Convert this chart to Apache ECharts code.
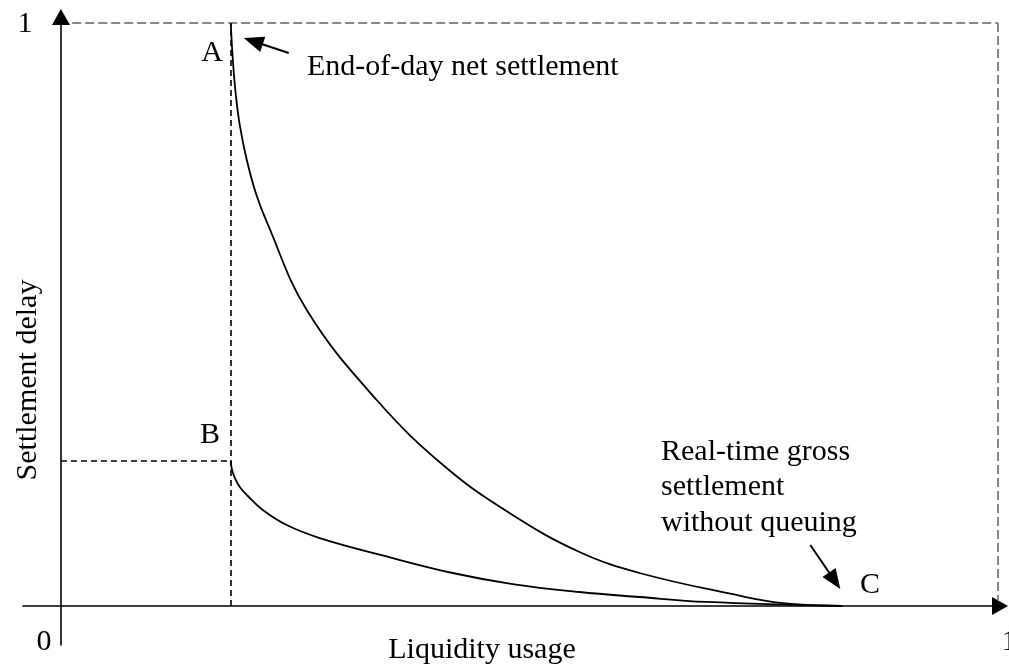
<!DOCTYPE html>
<html>
<head>
<meta charset="utf-8">
<script src="https://cdn.jsdelivr.net/npm/echarts@6/dist/echarts.min.js"></script>
<style>
html, body { margin: 0; padding: 0; background: #fff; }
#chart { width: 1009px; height: 669px; }
</style>
</head>
<body>
<div id="chart"></div>
<script>
// upper curve: from A (end-of-day net settlement) down to C
var upperX = [0.1812, 0.1834, 0.1866, 0.1908, 0.1983, 0.2079, 0.2196, 0.2623, 0.3369, 0.4115, 0.4819, 0.5533, 0.6173, 0.7207, 0.7697, 0.8337];
var upperY = [1.0, 0.9365, 0.8765, 0.8250, 0.7650, 0.7084, 0.6587, 0.5077, 0.3533, 0.2367, 0.1561, 0.0926, 0.0566, 0.0189, 0.0051, 0];
// lower curve: from B down to C
var lowerX = [0.1812, 0.1823, 0.1855, 0.1908, 0.1983, 0.2154, 0.2409, 0.2761, 0.3454, 0.4179, 0.4819, 0.5533, 0.6173, 0.6887, 0.8337];
var lowerY = [0.2487, 0.2350, 0.2196, 0.2041, 0.1904, 0.1647, 0.1389, 0.1166, 0.0858, 0.0566, 0.0377, 0.0240, 0.0154, 0.0069, 0];

var pointA = [0.1812, 1];
var pointB = [0.1812, 0.2487];

var xTickValues = [0, 1];
var xTickLabels = ['0', '1'];
var yTickValues = [1];
var yTickLabels = ['1'];

// arrows: [tail, head]
var arrowEod = [[0.2431, 0.9485], [0.2052, 0.9688]];
var arrowRtgs = [[0.7996, 0.1046], [0.8256, 0.0434]];

var FONT = '"Liberation Serif", "Times New Roman", serif';

function pairs(xs, ys) {
    var out = [];
    for (var i = 0; i < xs.length; i++) {
        out.push([xs[i], ys[i]]);
    }
    return out;
}

function txt(x, y, s, align, extra) {
    var el = { type: 'text', x: x, y: y, style: { text: s, font: '30px ' + FONT, fill: '#000', align: align || 'center', verticalAlign: 'middle' } };
    if (extra) {
        for (var k in extra) { el[k] = extra[k]; }
    }
    return el;
}

var chart = echarts.init(document.getElementById('chart'));

var option = {
    animation: false,
    grid: { left: 23, right: 9, top: 17, bottom: 24, containLabel: false, outerBoundsMode: 'none' },
    xAxis: {
        type: 'value',
        min: -0.0405,
        max: 1.002,
        splitLine: { show: false },
        axisTick: { show: false },
        axisLabel: { show: false },
        axisLine: {
            onZero: true,
            symbol: ['none', 'triangle'],
            symbolSize: [18, 16],
            lineStyle: { color: '#000', width: 1.6 }
        }
    },
    yAxis: {
        type: 'value',
        min: -0.0669,
        max: 1.0103,
        splitLine: { show: false },
        axisTick: { show: false },
        axisLabel: { show: false },
        axisLine: {
            onZero: true,
            symbol: ['none', 'triangle'],
            symbolSize: [18, 16],
            lineStyle: { color: '#000', width: 1.6 }
        }
    },
    series: [
        {
            name: 'End-of-day net settlement',
            type: 'line',
            data: pairs(upperX, upperY),
            showSymbol: false,
            smooth: 0.4,
            lineStyle: { color: '#000', width: 1.8 },
            silent: true
        },
        {
            name: 'Real-time gross settlement',
            type: 'line',
            data: pairs(lowerX, lowerY),
            showSymbol: false,
            smooth: 0.4,
            lineStyle: { color: '#000', width: 1.8 },
            silent: true,
            markLine: {
                silent: true,
                symbol: 'none',
                label: { show: false },
                data: [
                    // grey dashed frame at 1/1
                    [{ coord: [0.012, 1], lineStyle: { color: '#888', width: 2, type: [9, 4] } }, { coord: [1, 1] }],
                    [{ coord: [1, 1], lineStyle: { color: '#888', width: 2, type: [9, 4] } }, { coord: [1, 0.01] }],
                    // black dashed guides through A and B
                    [{ coord: [pointA[0], 0], lineStyle: { color: '#000', width: 1.6, type: [6, 4] } }, { coord: pointA }],
                    [{ coord: [0, pointB[1]], lineStyle: { color: '#000', width: 1.6, type: [6, 4] } }, { coord: pointB }]
                ]
            }
        },
        {
            name: 'arrows',
            type: 'line',
            data: [],
            silent: true,
            markLine: {
                silent: true,
                symbol: ['none', 'triangle'],
                symbolSize: [16, 20],
                label: { show: false },
                lineStyle: { color: '#000', width: 2, type: 'solid' },
                data: [
                    [{ coord: arrowEod[0] }, { coord: arrowEod[1] }],
                    [{ coord: arrowRtgs[0] }, { coord: arrowRtgs[1] }]
                ]
            }
        }
    ]
};

chart.setOption(option);

// tick labels 0 / 1 placed off the axis ends like the original sketch
var labels = [];
var p0 = chart.convertToPixel({ gridIndex: 0 }, [xTickValues[0], 0]);
var p1 = chart.convertToPixel({ gridIndex: 0 }, [xTickValues[1], 0]);
var py = chart.convertToPixel({ gridIndex: 0 }, [0, yTickValues[0]]);
labels.push(txt(p0[0] - 17, p0[1] + 36, xTickLabels[0]));
labels.push(txt(p1[0] + 11, p1[1] + 36, xTickLabels[1]));
labels.push(txt(py[0] - 36, py[1] + 1, yTickLabels[0]));

labels.push(txt(212, 53, 'A'));
labels.push(txt(210, 435, 'B'));
labels.push(txt(870, 585, 'C'));
labels.push(txt(307, 67, 'End-of-day net settlement', 'left'));
labels.push({ type: 'text', x: 661, y: 434, style: { text: 'Real-time gross\nsettlement\nwithout queuing', font: '30px ' + FONT, lineHeight: 35.5, fill: '#000', align: 'left', verticalAlign: 'top' } });
labels.push(txt(482, 650, 'Liquidity usage'));
labels.push(txt(28, 380, 'Settlement delay', 'center', { rotation: Math.PI / 2 }));

chart.setOption({ graphic: labels });
</script>
</body>
</html>
